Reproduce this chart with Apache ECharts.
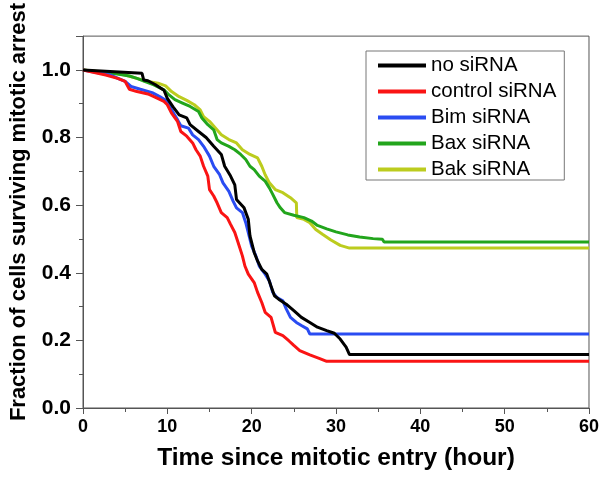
<!DOCTYPE html>
<html>
<head>
<meta charset="utf-8">
<script src="https://cdn.jsdelivr.net/npm/echarts@6/dist/echarts.min.js"></script>
<style>html,body{margin:0;padding:0;background:#fff}#chart{width:602px;height:483px}</style>
</head>
<body>
<div id="chart"></div>
<script>
// Series names
const seriesNames = ['no siRNA', 'control siRNA', 'Bim siRNA', 'Bax siRNA', 'Bak siRNA'];
// Time (hour) vs fraction surviving
const noSirna = [[0,1.0],[7.0,0.99],[7.2,0.97],[7.7,0.968],[8.6,0.956],[9.6,0.94],[10,0.916],[10.7,0.89],[11.4,0.867],[12.3,0.858],[12.7,0.838],[13.7,0.818],[14.6,0.80],[15.5,0.774],[16.4,0.75],[16.8,0.715],[17.5,0.686],[18,0.66],[18.2,0.617],[19.1,0.592],[19.6,0.558],[19.8,0.509],[20.3,0.46],[20.7,0.435],[21.2,0.41],[21.8,0.396],[22.3,0.36],[22.7,0.332],[23.2,0.322],[24.1,0.307],[25.0,0.288],[25.9,0.268],[26.9,0.253],[27.8,0.239],[28.9,0.229],[29.8,0.221],[30.5,0.204],[31.2,0.18],[31.6,0.158],[60,0.158]];
const controlSirna = [[0,1.0],[2.7,0.985],[4.1,0.975],[5.0,0.966],[5.5,0.943],[6.4,0.936],[7.7,0.929],[8.6,0.919],[9.6,0.907],[10,0.897],[10.5,0.872],[11.2,0.848],[11.6,0.818],[12.3,0.804],[13,0.784],[13.4,0.764],[13.9,0.745],[14.3,0.715],[14.8,0.686],[15.0,0.646],[15.5,0.627],[15.9,0.607],[16.4,0.578],[17.1,0.563],[17.5,0.543],[18,0.519],[18.4,0.489],[18.9,0.45],[19.2,0.42],[19.6,0.396],[20.3,0.371],[20.7,0.342],[21.2,0.312],[21.6,0.283],[22.3,0.268],[22.8,0.224],[23.7,0.214],[24.4,0.199],[25,0.185],[25.7,0.17],[26.9,0.157],[28,0.147],[28.9,0.138],[60,0.138]];
const bimSirna = [[0,1.0],[3.2,0.985],[5.0,0.966],[5.7,0.951],[6.8,0.943],[8.2,0.933],[9.1,0.921],[10,0.907],[10.5,0.882],[11.2,0.853],[11.6,0.835],[12.5,0.828],[13,0.808],[13.7,0.794],[14.3,0.774],[15,0.745],[15.5,0.715],[16.2,0.69],[16.6,0.666],[17.3,0.641],[17.8,0.612],[18.2,0.592],[18.9,0.578],[19.3,0.548],[19.6,0.519],[20,0.479],[20.5,0.45],[20.9,0.42],[21.6,0.396],[22.1,0.376],[22.5,0.342],[23,0.327],[23.7,0.317],[24.1,0.293],[24.6,0.268],[25.3,0.253],[25.9,0.244],[26.6,0.234],[26.9,0.219],[60,0.219]];
const baxSirna = [[0,1.0],[4.1,0.988],[5.5,0.982],[6.4,0.975],[7.3,0.966],[8.4,0.956],[9.6,0.941],[10.2,0.926],[10.9,0.912],[11.8,0.902],[12.7,0.892],[13.7,0.877],[14.1,0.858],[14.8,0.838],[15.5,0.823],[15.9,0.794],[16.4,0.784],[17.3,0.774],[18,0.764],[18.7,0.75],[19.3,0.735],[19.8,0.715],[20.3,0.705],[20.9,0.686],[21.6,0.671],[22.1,0.651],[22.5,0.632],[23,0.607],[23.4,0.592],[23.9,0.578],[25,0.57],[26.2,0.563],[27.1,0.553],[27.8,0.54],[28.9,0.53],[30,0.521],[31.4,0.512],[32.8,0.506],[34.4,0.501],[35.5,0.499],[35.7,0.491],[60,0.491]];
const bakSirna = [[0,1.0],[3.2,0.992],[5,0.985],[6.8,0.972],[7.7,0.966],[8.9,0.961],[9.8,0.953],[10.5,0.936],[11.4,0.921],[12.3,0.91],[13.2,0.897],[13.9,0.882],[14.3,0.862],[15,0.848],[15.7,0.828],[16.4,0.808],[17.3,0.794],[18.2,0.784],[18.9,0.764],[19.8,0.75],[20.7,0.74],[21.2,0.715],[21.6,0.69],[22.1,0.666],[22.8,0.646],[23.7,0.637],[24.6,0.622],[25.3,0.607],[25.35,0.563],[26.2,0.558],[26.9,0.548],[27.6,0.528],[28.4,0.514],[29.4,0.497],[30.5,0.481],[31.6,0.473],[60,0.473]];
const seriesData = [noSirna, controlSirna, bimSirna, baxSirna, bakSirna];
const colors = ['#000000', '#fa1414', '#2a4cf2', '#22a51c', '#bccc1e'];

const FONT = '"Liberation Sans", Arial, sans-serif';
const chart = echarts.init(document.getElementById('chart'), null, {renderer: 'canvas'});
const axisColor = '#555';
chart.setOption({
  animation: false,
  backgroundColor: '#fff',
  grid: {left: 80, right: 13, top: 33, bottom: 75, show: true, borderColor: axisColor, borderWidth: 1, backgroundColor: 'transparent'},
  legend: {
    orient: 'vertical', left: 366, top: 51,
    data: seriesNames,
    icon: 'rect', itemWidth: 48, itemHeight: 4, itemGap: 5,
    padding: [4, 8, 0, 12],
    borderColor: '#777', borderWidth: 1,
    textStyle: {fontFamily: FONT, fontSize: 20.5, color: '#000'}
  },
  xAxis: {
    type: 'value', min: 0, max: 60, interval: 10,
    name: 'Time since mitotic entry (hour)', nameLocation: 'middle', nameGap: 38,
    nameTextStyle: {fontFamily: FONT, fontSize: 24.5, fontWeight: 'bold', color: '#000'},
    axisLine: {show: true, lineStyle: {color: axisColor, width: 1}},
    axisTick: {show: true, inside: false, length: 6, lineStyle: {color: axisColor}},
    minorTick: {show: true, splitNumber: 2, length: 4, lineStyle: {color: axisColor}},
    splitLine: {show: false},
    axisLabel: {fontFamily: FONT, fontSize: 18, fontWeight: 'bold', color: '#000', margin: 10}
  },
  yAxis: {
    type: 'value', min: 0, max: 1.1, interval: 0.2,
    name: 'Fraction of cells surviving mitotic arrest', nameLocation: 'middle', nameGap: 53,
    nameTextStyle: {fontFamily: FONT, fontSize: 22, fontWeight: 'bold', color: '#000', padding: [0, 0, 0, 20]},
    axisLine: {show: true, lineStyle: {color: axisColor, width: 1}},
    axisTick: {show: true, inside: false, length: 7, lineStyle: {color: axisColor}},
    minorTick: {show: true, splitNumber: 2, length: 4, lineStyle: {color: axisColor}},
    splitLine: {show: false},
    axisLabel: {fontFamily: FONT, fontSize: 21, fontWeight: 'bold', color: '#000', margin: 12, showMaxLabel: false,
      formatter: v => v > 1.05 ? '' : v.toFixed(1)}
  },
  series: seriesNames.map((n, i) => ({
    name: n, type: 'line', data: seriesData[i], showSymbol: false, symbol: 'none',
    lineStyle: {color: colors[i], width: 3}, itemStyle: {color: colors[i]}, z: 5 - i
  }))
});
</script>
</body>
</html>
